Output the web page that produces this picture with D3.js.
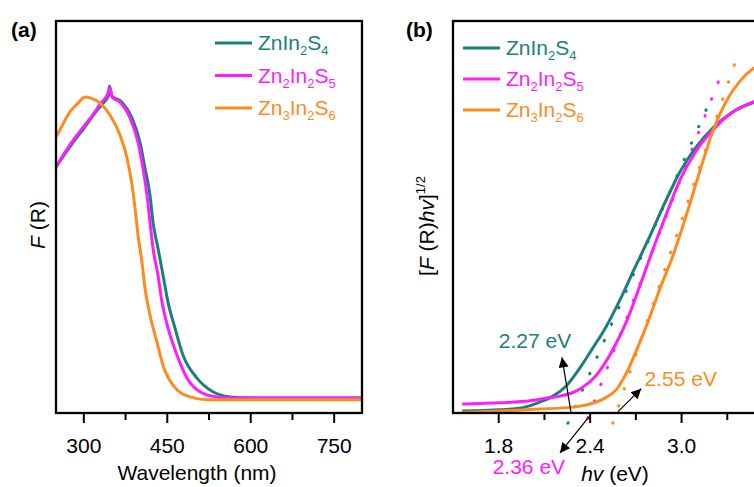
<!DOCTYPE html>
<html>
<head>
<meta charset="utf-8">
<script src="https://cdn.jsdelivr.net/npm/d3@7"></script>
<style>
  body { margin: 0; background: #fff; }
  svg { display: block; font-family: "Liberation Sans", Arial, sans-serif; }
</style>
</head>
<body>
<svg id="chart" width="754" height="487"></svg>
<script>
// ---- data, panel (a): wavelength (nm) vs F(R) (arb. units) ----
const wavelengthTicks = [300, 450, 600, 750];
const wavelengthMinor = [375, 525, 675];

const absZnIn2S4 = [
  [250, 0.628], [275, 0.679], [302, 0.730], [320, 0.765], [333, 0.788], [344, 0.809],
  [346, 0.834], [350.6, 0.809], [368.6, 0.793], [386.6, 0.753], [400.9, 0.691],
  [409.9, 0.625], [418.9, 0.556], [424.3, 0.487], [433.3, 0.421], [442.3, 0.352],
  [451.3, 0.283], [463.8, 0.217], [478.2, 0.148], [503.4, 0.089], [532.1, 0.054],
  [562.7, 0.041], [598.6, 0.038], [800, 0.038]
];
const absZn2In2S5 = [
  [250, 0.628], [275, 0.684], [302, 0.735], [320, 0.768], [329, 0.788], [342, 0.811],
  [347, 0.829], [350.6, 0.806], [365, 0.793], [383, 0.753], [397.4, 0.691],
  [406.3, 0.625], [413.5, 0.556], [418.9, 0.487], [424.3, 0.421], [433.3, 0.352],
  [440.5, 0.283], [451.3, 0.217], [467.4, 0.148], [485.4, 0.089], [508.8, 0.054],
  [539.3, 0.041], [580.6, 0.038], [800, 0.038]
];
const absZn3In2S6 = [
  [250, 0.704], [257, 0.722], [275, 0.768], [290, 0.791], [302, 0.806], [311, 0.804],
  [329, 0.791], [347, 0.760], [365, 0.709], [377.6, 0.651], [386.6, 0.582],
  [392, 0.523], [397.4, 0.454], [404.5, 0.385], [409.9, 0.319], [418.9, 0.250],
  [431.5, 0.181], [442.3, 0.122], [460.2, 0.071], [490.8, 0.041], [521.3, 0.034],
  [800, 0.034]
];

// ---- data, panel (b): photon energy (eV) vs [F(R)hv]^1/2 ----
const energyTicks = [1.8, 2.4, 3.0];
const energyMinor = [2.1, 2.7, 3.3];

const taucZnIn2S4 = [
  [1.56, 0.005], [1.81, 0.008], [1.97, 0.015], [2.07, 0.028], [2.156, 0.043], [2.248, 0.071],
  [2.333, 0.115], [2.418, 0.166], [2.503, 0.219], [2.595, 0.288], [2.693, 0.370],
  [2.792, 0.451], [2.890, 0.536], [2.989, 0.615], [3.10, 0.681], [3.205, 0.727],
  [3.336, 0.768], [3.467, 0.791], [3.6, 0.805]
];
const taucZn2In2S5 = [
  [1.56, 0.023], [1.81, 0.026], [2.005, 0.031], [2.116, 0.038], [2.202, 0.043], [2.28, 0.051],
  [2.352, 0.066], [2.431, 0.092], [2.510, 0.135], [2.575, 0.181], [2.648, 0.242],
  [2.726, 0.324], [2.811, 0.416], [2.903, 0.510], [2.989, 0.594], [3.10, 0.671],
  [3.205, 0.722], [3.336, 0.768], [3.467, 0.793], [3.6, 0.806]
];
const taucZn3In2S6 = [
  [1.56, 0.001], [2.07, 0.010], [2.287, 0.015], [2.398, 0.023], [2.497, 0.038],
  [2.575, 0.061], [2.648, 0.110], [2.713, 0.168], [2.779, 0.232], [2.857, 0.316],
  [2.943, 0.401], [3.034, 0.508], [3.12, 0.617], [3.205, 0.719], [3.297, 0.798],
  [3.382, 0.846], [3.467, 0.878], [3.6, 0.90]
];

// tangent (linear fit) lines, two end points each
const fitZnIn2S4 = [[2.254, -0.026], [3.198, 0.806]];
const fitZn2In2S5 = [[2.385, -0.013], [3.251, 0.855]];
const fitZn3In2S6 = [[2.548, -0.026], [3.382, 0.929]];

const bandGaps = ["2.27 eV", "2.36 eV", "2.55 eV"];

const teal = "#1b807a", magenta = "#ff1cff", orange = "#ff8a1f";
// [Zn, Zn subscript, In, In subscript, S, S subscript]
const seriesNames = [["Zn", "", "In", "2", "S", "4"], ["Zn", "2", "In", "2", "S", "5"], ["Zn", "3", "In", "2", "S", "6"]];
const colors = [teal, magenta, orange];

const svg = d3.select("#chart");
const TOP = 21, BOTTOM = 413;

svg.append("defs").append("marker")
  .attr("id", "arrow")
  .attr("viewBox", "0 0 10 10")
  .attr("refX", 10).attr("refY", 5)
  .attr("markerWidth", 15).attr("markerHeight", 10)
  .attr("markerUnits", "userSpaceOnUse")
  .attr("orient", "auto")
  .append("path")
  .attr("d", "M0,0 L10,5 L0,10 Z")
  .attr("fill", "#000");

const yScale = d3.scaleLinear().domain([0, 1]).range([BOTTOM, TOP]);

function drawAxis(g, xScale, major, minor, fmt) {
  const axis = g.append("g").attr("transform", `translate(0, ${BOTTOM})`);
  axis.selectAll(".major").data(major).enter().append("line")
    .attr("x1", d => xScale(d)).attr("x2", d => xScale(d))
    .attr("y1", 0).attr("y2", 10)
    .attr("stroke", "#000").attr("stroke-width", 2);
  axis.selectAll(".minor").data(minor).enter().append("line")
    .attr("x1", d => xScale(d)).attr("x2", d => xScale(d))
    .attr("y1", 0).attr("y2", 7)
    .attr("stroke", "#000").attr("stroke-width", 2);
  axis.selectAll("text").data(major).enter().append("text")
    .attr("x", d => xScale(d)).attr("y", 40)
    .attr("text-anchor", "middle")
    .style("font-size", "21px")
    .text(fmt);
}

function drawLegend(g, x, y0, step) {
  seriesNames.forEach((n, i) => {
    const y = y0 + i * step;
    g.append("line")
      .attr("x1", x).attr("x2", x + 37).attr("y1", y).attr("y2", y)
      .attr("stroke", colors[i]).attr("stroke-width", 3);
    const t = g.append("text")
      .attr("x", x + 43).attr("y", y + 7)
      .attr("fill", colors[i])
      .style("font-size", "21px");
    let shifted = false;
    [0, 2, 4].forEach(k => {
      t.append("tspan").attr("dy", shifted ? -5 : 0).text(n[k]);
      shifted = false;
      if (n[k + 1]) {
        t.append("tspan").attr("dy", 5).style("font-size", "13px").text(n[k + 1]);
        shifted = true;
      }
    });
  });
}

const line = (xScale) => d3.line()
  .x(d => xScale(d[0])).y(d => yScale(d[1]))
  .curve(d3.curveMonotoneX);

// ---------------- panel (a) ----------------
const xA = d3.scaleLinear().domain([250, 800]).range([56, 362]);
const gA = svg.append("g");

[absZnIn2S4, absZn2In2S5, absZn3In2S6].forEach((data, i) => {
  gA.append("path").datum(data)
    .attr("d", line(xA))
    .attr("fill", "none").attr("stroke", colors[i]).attr("stroke-width", 3);
});

gA.append("rect")
  .attr("x", 56).attr("y", TOP).attr("width", 362 - 56).attr("height", BOTTOM - TOP)
  .attr("fill", "none").attr("stroke", "#000").attr("stroke-width", 2.3);

drawAxis(gA, xA, wavelengthTicks, wavelengthMinor, d => d);
drawLegend(gA, 215, 43, 32.5);

gA.append("text")
  .attr("x", 197).attr("y", 480).attr("text-anchor", "middle")
  .style("font-size", "21px").text("Wavelength (nm)");

const yLabA = gA.append("text")
  .attr("transform", "translate(45, 225) rotate(-90)")
  .attr("text-anchor", "middle").style("font-size", "21px");
yLabA.append("tspan").style("font-style", "italic").text("F");
yLabA.append("tspan").text(" (R)");

gA.append("text").attr("x", 11).attr("y", 37)
  .style("font-size", "21px").style("font-weight", "bold").text("(a)");

// ---------------- panel (b) ----------------
const xB = d3.scaleLinear().domain([1.5, 3.6]).range([453, 773]);
const gB = svg.append("g");

[fitZnIn2S4, fitZn2In2S5, fitZn3In2S6].forEach((data, i) => {
  gB.append("path").datum(data)
    .attr("d", d3.line().x(d => xB(d[0])).y(d => yScale(d[1])))
    .attr("fill", "none").attr("stroke", colors[i]).attr("stroke-width", 3)
    .attr("stroke-linecap", "round")
    .attr("stroke-dasharray", "0.5 17.5");
});

[taucZnIn2S4, taucZn2In2S5, taucZn3In2S6].forEach((data, i) => {
  gB.append("path").datum(data)
    .attr("d", line(xB))
    .attr("fill", "none").attr("stroke", colors[i]).attr("stroke-width", 3);
});

gB.append("rect")
  .attr("x", 453).attr("y", TOP).attr("width", 773 - 453).attr("height", BOTTOM - TOP)
  .attr("fill", "none").attr("stroke", "#000").attr("stroke-width", 2.3);

drawAxis(gB, xB, energyTicks, energyMinor, d3.format(".1f"));
drawLegend(gB, 463, 48, 31);

// band-gap arrows and labels (data units)
const arrows = [
  [[2.274, 0.003], [2.215, 0.142]],
  [[2.392, -0.010], [2.202, -0.102]],
  [[2.582, 0.003], [2.735, 0.062]]
];
const labelPos = [[2.038, 0.165], [1.998, -0.155], [2.995, 0.070]];

arrows.forEach(a => {
  gB.append("line")
    .attr("x1", xB(a[0][0])).attr("y1", yScale(a[0][1]))
    .attr("x2", xB(a[1][0])).attr("y2", yScale(a[1][1]))
    .attr("stroke", "#000").attr("stroke-width", 1.2)
    .attr("marker-end", "url(#arrow)");
});
bandGaps.forEach((t, i) => {
  gB.append("text")
    .attr("x", xB(labelPos[i][0])).attr("y", yScale(labelPos[i][1]))
    .attr("text-anchor", "middle").attr("fill", colors[i])
    .style("font-size", "21px").text(t);
});

const xLabB = gB.append("text")
  .attr("x", 615).attr("y", 481).attr("text-anchor", "middle")
  .style("font-size", "21px");
xLabB.append("tspan").style("font-style", "italic").text("hv");
xLabB.append("tspan").text(" (eV)");

const yLabB = gB.append("text")
  .attr("transform", "translate(434, 226) rotate(-90)")
  .attr("text-anchor", "middle").style("font-size", "21px");
yLabB.append("tspan").text("[");
yLabB.append("tspan").style("font-style", "italic").text("F");
yLabB.append("tspan").text(" (R)");
yLabB.append("tspan").style("font-style", "italic").text("hv");
yLabB.append("tspan").text("]");
yLabB.append("tspan").attr("dy", -9).style("font-size", "13px").text("1/2");

gB.append("text").attr("x", 406).attr("y", 37)
  .style("font-size", "21px").style("font-weight", "bold").text("(b)");
</script>
</body>
</html>
